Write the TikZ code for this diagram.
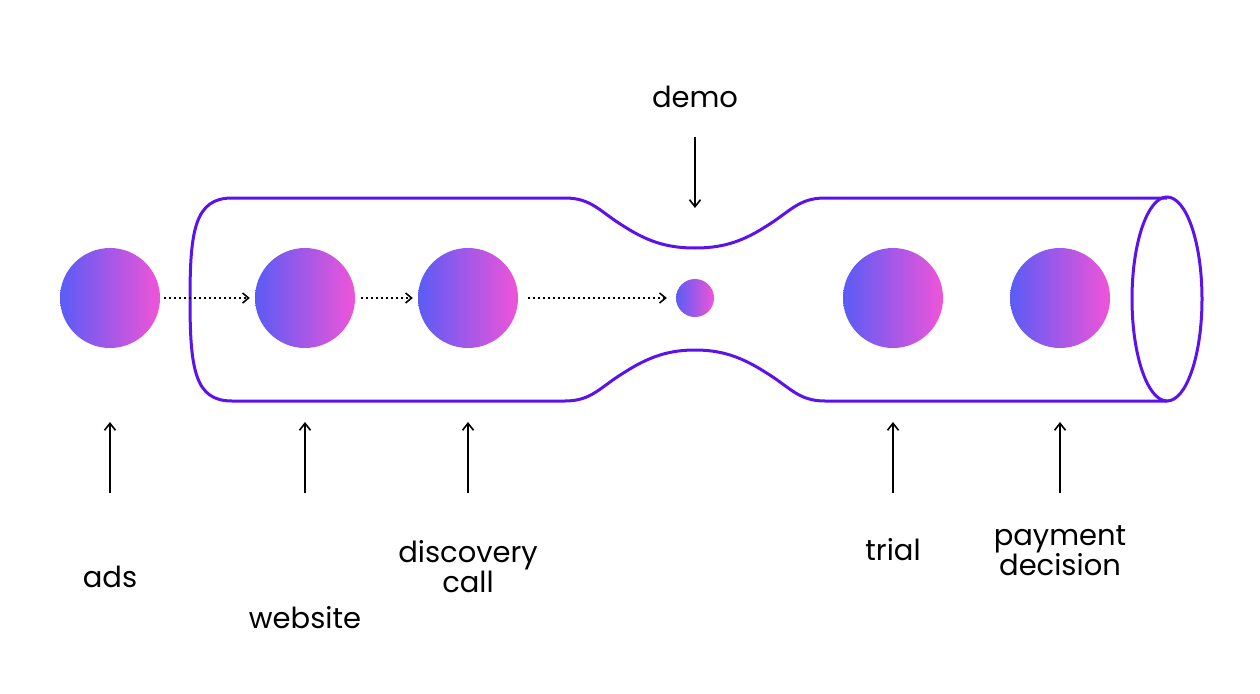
\documentclass[tikz,border=0pt]{standalone}
\usepackage{fontspec}
\usetikzlibrary{arrows.meta}
\setmainfont{Poppins}
\definecolor{tube}{HTML}{5B12EC}
\definecolor{bl}{HTML}{5A5CF6}
\definecolor{pk}{HTML}{F054D8}
\begin{document}
\begin{tikzpicture}[x=1pt,y=-1pt,
  ball/.style={circle,minimum size=100pt,inner sep=0pt,left color=bl,right color=pk,draw=none},
  lab/.style={font=\fontsize{29}{33}\selectfont,align=center,text=black},
  dot/.style={-{Straight Barb[length=6pt,width=10pt]},dash pattern=on 2pt off 3pt,line width=1.6pt},
  arr/.style={-{Straight Barb[length=7pt,width=11pt]},line width=1.6pt}]
\useasboundingbox (0,0) rectangle (1260,693);
\draw[tube,line width=3pt] (232,198) -- (565,198) .. controls (592,198) and (600,212) .. (625,227)
  .. controls (650,243) and (670,248) .. (695,248)
  .. controls (720,248) and (740,243) .. (765,227) .. controls (790,212) and (798,198) .. (825,198) -- (1167,198);
\draw[tube,line width=3pt] (232,401) -- (565,401) .. controls (592,401) and (600,387) .. (625,372)
  .. controls (650,356) and (670,350) .. (695,350)
  .. controls (720,350) and (740,356) .. (765,372) .. controls (790,387) and (798,401) .. (825,401) -- (1167,401);
\draw[tube,line width=3pt] (232,198) .. controls (195,198) and (190,230) .. (190,299)
  .. controls (190,370) and (195,401) .. (232,401);
\draw[tube,line width=3pt] (1167,299) ellipse [x radius=35, y radius=102];
\node[ball] (a) at (110,298) {};
\node[ball] (w) at (305,298) {};
\node[ball] (d) at (468,298) {};
\node[ball,minimum size=38pt] (m) at (695,298) {};
\node[ball] (t) at (893,298) {};
\node[ball] (p) at (1060,298) {};
\draw[dot] ([xshift=4pt]a.east) -- ([xshift=-5pt]w.west);
\draw[dot] ([xshift=6pt]w.east) -- ([xshift=-5pt]d.west);
\draw[dot] ([xshift=10pt]d.east) -- ([xshift=-9pt]m.west);
\node[lab] (ld) at (695,97) {demo};
\node[lab] (la) at (110,577) {ads};
\node[lab] (lw) at (305,618) {website};
\node[lab,inner sep=0pt] (lc) at (468,567) {discovery\\[-3pt]call};
\node[lab] (lt) at (893,550) {trial};
\node[lab,inner sep=0pt] (lp) at (1060,551) {payment\\[-3pt]decision};
\coordinate (dm) at (695,208);
\draw[arr] (695,137) -- (dm);
\foreach \x in {110,305,468,893,1060} \draw[arr] (\x,493) -- (\x,422);
\end{tikzpicture}
\end{document}
